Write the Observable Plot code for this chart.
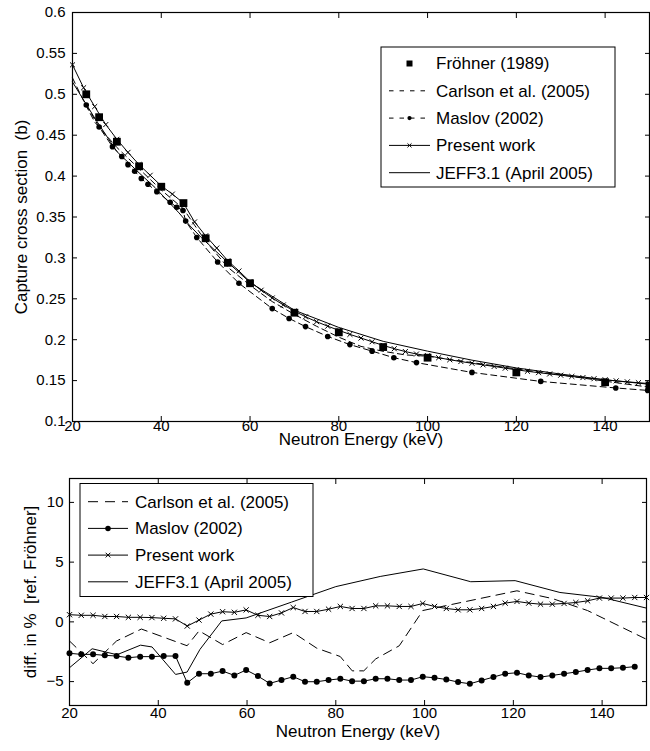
<!DOCTYPE html>
<html><head><meta charset="utf-8">
<script src="https://cdn.jsdelivr.net/npm/d3@7"></script>
<script src="https://cdn.jsdelivr.net/npm/@observablehq/plot@0.6"></script>
<style>
body{margin:0;background:#fff;}
#chart{width:650px;}
#chart svg{display:block;}
</style></head><body><div id="chart"></div>
<script>
// ---------- DATA: top panel (capture cross section, b) ----------
const frohnerE  = [23.1, 26, 30, 35, 40, 45, 50, 55, 60, 70, 80, 90, 100, 120, 140, 150];
const frohnerXS = [0.500, 0.472, 0.442, 0.412, 0.387, 0.367, 0.324, 0.294, 0.269, 0.233, 0.209, 0.191, 0.178, 0.160, 0.148, 0.144];

const carlsonE  = [20, 22.5, 25, 30, 35, 40, 45, 47.5, 50, 55, 60, 65, 70, 75, 80, 85, 90, 95, 100, 110, 120, 130, 140, 150];
const carlsonXS = [0.520, 0.492, 0.466, 0.435, 0.409, 0.383, 0.360, 0.340, 0.3205, 0.2885, 0.2665, 0.2466, 0.2309, 0.2164, 0.2031, 0.1918, 0.1858, 0.1814, 0.1798, 0.1720, 0.1642, 0.1569, 0.1493, 0.1419];

const maslovE  = [23.1, 26, 29, 31.1, 32.5, 34, 35.5, 37, 39, 42, 43.5, 44.9, 45.5, 48, 52.7, 57.5, 65, 68.8, 72.5, 77.5, 82.5, 87.5, 92.4, 97.5, 110, 125.5, 142.4, 149.6];
const maslovXS = [0.487, 0.460, 0.436, 0.424, 0.414, 0.406, 0.397, 0.390, 0.381, 0.368, 0.362, 0.358, 0.345, 0.325, 0.295, 0.269, 0.238, 0.226, 0.216, 0.204, 0.194, 0.186, 0.178, 0.172, 0.160, 0.149, 0.141, 0.138];

const presentE  = [20, 22.5, 25, 27.5, 30, 32.5, 35, 37.5, 40, 42.5, 45, 47.5, 50, 52.5, 55, 57.5, 60, 62.5, 65, 67.5, 70, 72.5, 75, 77.5, 80, 82.5, 85, 87.5, 90, 92.5, 95, 97.5, 100, 102.5, 105, 107.5, 110, 112.5, 115, 117.5, 120, 122.5, 125, 127.5, 130, 132.5, 135, 137.5, 140, 142.5, 145, 147.5, 150];
const presentXS = [0.536, 0.508, 0.485, 0.463, 0.445, 0.429, 0.414, 0.401, 0.388, 0.378, 0.367, 0.344, 0.327, 0.312, 0.2965, 0.284, 0.271, 0.2605, 0.251, 0.2425, 0.235, 0.228, 0.222, 0.2165, 0.2115, 0.2065, 0.202, 0.1975, 0.193, 0.189, 0.1855, 0.1825, 0.1805, 0.178, 0.1755, 0.1733, 0.1712, 0.1692, 0.1673, 0.1652, 0.1632, 0.1614, 0.1597, 0.1581, 0.1566, 0.1551, 0.1537, 0.1523, 0.151, 0.1497, 0.1485, 0.1474, 0.1463];

const jeffE  = [20, 25, 30, 35, 38.6, 44, 46.5, 49, 54.5, 60, 70, 80, 90, 100, 110, 120, 130, 140, 150];
const jeffXS = [0.515, 0.471, 0.430, 0.404, 0.386, 0.355, 0.339, 0.325, 0.297, 0.270, 0.236, 0.215, 0.198, 0.186, 0.175, 0.1655, 0.158, 0.151, 0.1455];

// ---------- DATA: bottom panel (diff in %, ref. Fröhner) ----------
const gridE = [20.0, 22.65, 25.31, 27.96, 30.61, 33.27, 35.92, 38.57, 41.22, 43.88, 46.53, 49.18, 51.84, 54.49, 57.14, 59.80, 62.45, 65.10, 67.76, 70.41, 73.06, 75.71, 78.37, 81.02, 83.67, 86.33, 88.98, 91.63, 94.29, 96.94, 99.59, 102.24, 104.90, 107.55, 110.20, 112.86, 115.51, 118.16, 120.82, 123.47, 126.12, 128.78, 131.43, 134.08, 136.73, 139.39, 142.04, 144.69, 147.35, 150.0];
const presentDiff = [0.60, 0.55, 0.55, 0.45, 0.45, 0.38, 0.38, 0.36, 0.30, 0.25, -0.35, 0.15, 0.65, 0.85, 0.80, 1.00, 0.55, 0.45, 0.75, 1.20, 0.87, 0.87, 1.06, 1.29, 1.12, 1.12, 1.34, 1.34, 1.29, 1.29, 1.54, 1.29, 1.12, 1.01, 1.01, 1.12, 1.29, 1.57, 1.71, 1.57, 1.48, 1.48, 1.54, 1.62, 1.76, 1.99, 1.99, 1.99, 2.04, 2.04];
const maslovDiff = [-2.63, -2.72, -2.72, -2.80, -2.86, -3.00, -2.91, -2.91, -2.86, -2.86, -5.10, -4.34, -4.34, -4.12, -4.48, -4.03, -4.54, -5.15, -4.87, -4.59, -5.01, -5.01, -4.87, -4.76, -4.96, -4.96, -4.76, -4.76, -4.87, -4.87, -4.59, -4.68, -4.82, -5.04, -5.18, -4.90, -4.62, -4.34, -4.26, -4.48, -4.62, -4.48, -4.34, -4.20, -4.03, -3.89, -3.89, -3.84, -3.75];

const carlsonDiffE = [20, 25.3, 30.6, 36.2, 46.5, 49.2, 54.5, 59.8, 65.1, 70.4, 75.7, 81.0, 83.7, 86.3, 89.0, 94.3, 99.6, 120.8, 128.8, 136.7, 150];
const carlsonDiff  = [-1.6, -3.5, -1.6, -0.6, -2.0, -0.75, -1.9, -0.9, -1.75, -0.9, -2.2, -2.9, -4.1, -4.1, -3.1, -2.0, 0.95, 2.6, 1.95, 0.95, -1.46];

const jeffDiffE = [20, 25.1, 30.7, 36, 38.6, 43.9, 46.5, 49.4, 54.3, 59.8, 70, 80, 90, 99.7, 110.4, 120.4, 130.5, 140, 150];
const jeffDiff  = [-3.84, -2.25, -2.75, -1.95, -2.1, -4.4, -4.2, -2.3, 0.08, 0.33, 1.65, 2.95, 3.8, 4.43, 3.36, 3.45, 2.46, 2.05, 1.15];

// ---------- ticks & labels ----------
const xTicks = [20, 40, 60, 80, 100, 120, 140];
const topYTicks = [0.1, 0.15, 0.2, 0.25, 0.3, 0.35, 0.4, 0.45, 0.5, 0.55, 0.6];
const botYTicks = [-5, 0, 5, 10];
const xLabel = "Neutron Energy (keV)";
const topYLabel = "Capture cross section  (b)";
const botYLabel = "diff. in %  [ref. Fröhner]";
const topLegendLabels = ["Fröhner (1989)", "Carlson et al. (2005)", "Maslov (2002)", "Present work", "JEFF3.1 (April 2005)"];
const botLegendLabels = ["Carlson et al. (2005)", "Maslov (2002)", "Present work", "JEFF3.1 (April 2005)"];

const FONT = "'Liberation Sans', Arial, Helvetica, sans-serif";
const zip = (xs, ys) => xs.map((x, i) => ({x, y: ys[i]}));
const fmt = d => (d < 0 ? "\u2212" : "") + Math.abs(d);

function frameAxes(yTicks, padX, padY, yFmt) {
  return [
    Plot.axisX(xTicks, {anchor: "bottom", tickSize: -5, tickPadding: padX, label: null, tickFormat: fmt, fontSize: 15}),
    Plot.axisX(xTicks, {anchor: "top", tickSize: -5, label: null, tickFormat: () => ""}),
    Plot.axisY(yTicks, {anchor: "left", tickSize: -5, tickPadding: padY, label: null, tickFormat: yFmt, fontSize: 15}),
    Plot.axisY(yTicks, {anchor: "right", tickSize: -5, label: null, tickFormat: () => ""})
  ];
}

// ---------- top panel ----------
const topPlot = Plot.plot({
  width: 650, height: 450,
  marginTop: 12, marginBottom: 29, marginLeft: 72, marginRight: 1,
  style: {fontFamily: FONT, fontSize: "15px", background: "white", color: "black", overflow: "visible"},
  x: {domain: [20, 150]},
  y: {domain: [0.1, 0.6]},
  marks: [
    ...frameAxes(topYTicks, 4, 12, d => String(d)),
    Plot.line(zip(jeffE, jeffXS), {x: "x", y: "y", stroke: "black", strokeWidth: 1}),
    Plot.line(zip(carlsonE, carlsonXS), {x: "x", y: "y", stroke: "black", strokeWidth: 1, strokeDasharray: "6,4"}),
    Plot.line(zip(maslovE, maslovXS), {x: "x", y: "y", stroke: "black", strokeWidth: 1, strokeDasharray: "6,4"}),
    Plot.dot(zip(maslovE, maslovXS), {x: "x", y: "y", r: 2.8, fill: "black", stroke: "none"}),
    Plot.line(zip(presentE, presentXS), {x: "x", y: "y", stroke: "black", strokeWidth: 1}),
    Plot.dot(zip(presentE, presentXS), {x: "x", y: "y", symbol: "times", r: 2.4, stroke: "black", strokeWidth: 1}),
    Plot.dot(zip(frohnerE, frohnerXS), {x: "x", y: "y", symbol: "square", r: 4.4, fill: "black", stroke: "none"}),
    Plot.frame({stroke: "black", strokeWidth: 1.2}),
    Plot.text([xLabel], {text: d => d, frameAnchor: "bottom", textAnchor: "middle", dy: 23, fontSize: 17}),
    Plot.text([topYLabel], {text: d => d, frameAnchor: "left", textAnchor: "middle", rotate: -90, dx: -51, fontSize: 17})
  ]
});

// ---------- bottom panel ----------
const botPlot = Plot.plot({
  width: 650, height: 301,
  marginTop: 28, marginBottom: 46, marginLeft: 69, marginRight: 4,
  style: {fontFamily: FONT, fontSize: "15px", background: "white", color: "black"},
  x: {domain: [20, 150]},
  y: {domain: [-7, 12]},
  marks: [
    ...frameAxes(botYTicks, 7, 11, fmt),
    Plot.line(zip(carlsonDiffE, carlsonDiff), {x: "x", y: "y", stroke: "black", strokeWidth: 1, strokeDasharray: "9,6"}),
    Plot.line(zip(jeffDiffE, jeffDiff), {x: "x", y: "y", stroke: "black", strokeWidth: 1}),
    Plot.line(zip(gridE.slice(0, maslovDiff.length), maslovDiff), {x: "x", y: "y", stroke: "black", strokeWidth: 1}),
    Plot.dot(zip(gridE.slice(0, maslovDiff.length), maslovDiff), {x: "x", y: "y", r: 3, fill: "black", stroke: "none"}),
    Plot.line(zip(gridE, presentDiff), {x: "x", y: "y", stroke: "black", strokeWidth: 1}),
    Plot.dot(zip(gridE, presentDiff), {x: "x", y: "y", symbol: "times", r: 2.5, stroke: "black", strokeWidth: 1}),
    Plot.frame({stroke: "black", strokeWidth: 1.2}),
    Plot.text([xLabel], {text: d => d, frameAnchor: "bottom", textAnchor: "middle", dy: 31, fontSize: 17}),
    Plot.text([botYLabel], {text: d => d, frameAnchor: "left", textAnchor: "middle", rotate: -90, dx: -39, fontSize: 17})
  ]
});

// ---------- legends ----------
function drawLegend(svg, box, labels, styles, cfg) {
  const g = d3.select(svg).append("g")
    .attr("font-family", FONT).attr("font-size", cfg.fontSize + "px").attr("fill", "black")
    .attr("text-anchor", "start");
  g.append("rect").attr("x", box.x).attr("y", box.y).attr("width", box.w).attr("height", box.h)
    .attr("fill", "white").attr("stroke", "black").attr("stroke-width", 1);
  labels.forEach((lab, i) => {
    const st = styles[i];
    const y = cfg.y0 + i * cfg.dy;
    if (st.line) {
      g.append("line").attr("x1", cfg.lx1).attr("x2", cfg.lx2).attr("y1", y).attr("y2", y)
        .attr("stroke", "black").attr("stroke-width", 1)
        .attr("stroke-dasharray", st.dash || null);
    }
    if (st.marker) {
      const type = st.marker === "square" ? d3.symbolSquare : st.marker === "times" ? d3.symbolTimes : d3.symbolCircle;
      const p = g.append("path").attr("d", d3.symbol(type, st.size)())
        .attr("transform", `translate(${(cfg.lx1 + cfg.lx2) / 2},${y})`);
      if (st.marker === "times") p.attr("fill", "none").attr("stroke", "black").attr("stroke-width", 1);
      else p.attr("fill", "black");
    }
    g.append("text").attr("x", cfg.tx).attr("y", y).attr("dy", "0.35em").attr("text-anchor", "start").text(lab);
  });
}

drawLegend(topPlot, {x: 381, y: 47, w: 234, h: 140}, topLegendLabels, [
  {line: false, marker: "square", size: 36},
  {line: true, dash: "4.5,6"},
  {line: true, dash: "4.5,6", marker: "circle", size: 14},
  {line: true, marker: "times", size: 12},
  {line: true}
], {fontSize: 17, y0: 63.5, dy: 27.3, lx1: 389, lx2: 430, tx: 436});

drawLegend(botPlot, {x: 80, y: 33.5, w: 233, h: 113}, botLegendLabels, [
  {line: true, dash: "10,7"},
  {line: true, marker: "circle", size: 24},
  {line: true, marker: "times", size: 16},
  {line: true}
], {fontSize: 17, y0: 51.7, dy: 26.7, lx1: 88, lx2: 128, tx: 135});

const root = document.getElementById("chart");
root.appendChild(topPlot);
root.appendChild(botPlot);
</script></body></html>
